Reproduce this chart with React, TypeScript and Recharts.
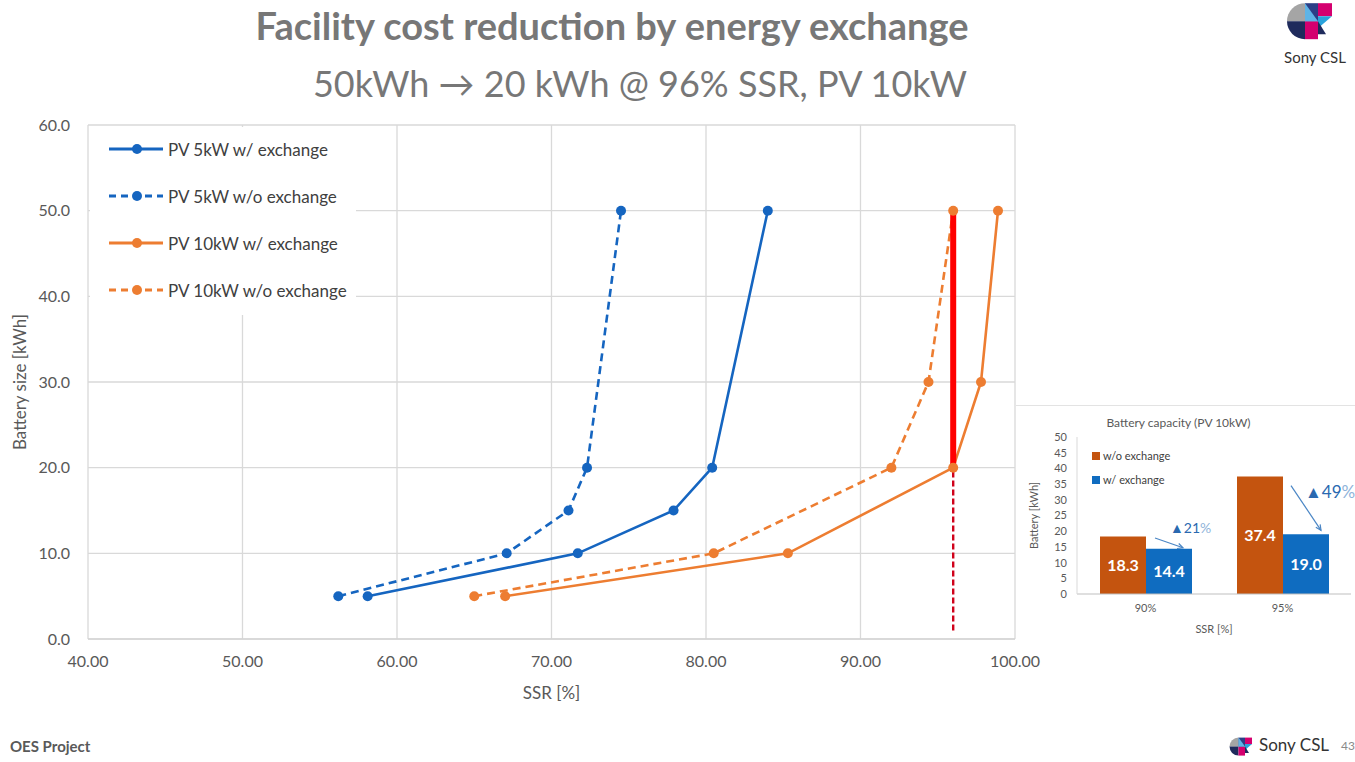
import React from "react";
import {
  LineChart,
  Line,
  XAxis,
  YAxis,
  CartesianGrid,
  BarChart,
  Bar,
  LabelList,
} from "recharts";

// main chart: SSR [%] vs battery size [kWh]
const SSR_5KW_W = [58.1, 71.7, 77.9, 80.4, 84.0];
const BAT_5KW_W = [5, 10, 15, 20, 50];
const SSR_5KW_WO = [56.2, 67.1, 71.1, 72.3, 74.5];
const BAT_5KW_WO = [5, 10, 15, 20, 50];
const SSR_10KW_W = [67.0, 85.3, 96.0, 97.8, 98.9];
const BAT_10KW_W = [5, 10, 20, 30, 50];
const SSR_10KW_WO = [65.0, 80.5, 92.0, 94.4, 96.0];
const BAT_10KW_WO = [5, 10, 20, 30, 50];

const TARGET_SSR = 96;
const TARGET_SOLID = [20, 50];
const TARGET_DASH = [1, 20];

const X_TICKS = [40, 50, 60, 70, 80, 90, 100];
const Y_TICKS = [0, 10, 20, 30, 40, 50, 60];

// inset bar chart
const INSET_CATS = ["90%", "95%"];
const INSET_WO = [18.3, 37.4];
const INSET_W = [14.4, 19.0];
const INSET_DROP = ["21", "49"];
const INSET_TICKS = [0, 5, 10, 15, 20, 25, 30, 35, 40, 45, 50];

const BLUE = "#1565c0";
const ORANGE = "#ed7d31";
const FONT = "Lato, 'Open Sans', sans-serif";

const zip = (xs: number[], ys: number[]) => xs.map((x, i) => ({ x, y: ys[i] }));

const series = [
  { name: "PV 5kW w/ exchange", color: BLUE, dash: undefined, data: zip(SSR_5KW_W, BAT_5KW_W) },
  { name: "PV 5kW w/o exchange", color: BLUE, dash: "8 5", data: zip(SSR_5KW_WO, BAT_5KW_WO) },
  { name: "PV 10kW w/ exchange", color: ORANGE, dash: undefined, data: zip(SSR_10KW_W, BAT_10KW_W) },
  { name: "PV 10kW w/o exchange", color: ORANGE, dash: "8 5", data: zip(SSR_10KW_WO, BAT_10KW_WO) },
];

const insetData = INSET_CATS.map((c, i) => ({ cat: c, wo: INSET_WO[i], w: INSET_W[i] }));

const Legend = () => (
  <div
    style={{
      position: "absolute",
      left: 90,
      top: 127,
      width: 266,
      height: 188,
      background: "#fff",
    }}
  >
    {series.map((s, i) => (
      <div
        key={s.name}
        style={{
          position: "absolute",
          left: 18,
          top: 10 + i * 47,
          display: "flex",
          alignItems: "center",
          height: 24,
        }}
      >
        <svg width={58} height={14}>
          <line x1={1} y1={7} x2={55} y2={7} stroke={s.color} strokeWidth={3} strokeDasharray={s.dash ? "7 5" : undefined} />
          <circle cx={29} cy={7} r={5} fill={s.color} />
        </svg>
        <span style={{ marginLeft: 2, fontSize: 17, color: "#404040" }}>{s.name}</span>
      </div>
    ))}
  </div>
);

const ARROWS = [
  { sx: 9, sy: 1.5, ex: 37, ey: -1, tx: 24, ty: -16, fs: 14 },
  { sx: 8, sy: 9, ex: 38, ey: -4, tx: 22, ty: -36, fs: 17 },
];

const DropNote = (props: any) => {
  const { x, y, width, height, value, index } = props;
  const a = ARROWS[index];
  const unit = height / value;
  const woTop = y + height - INSET_WO[index] * unit;
  const x1 = x + a.sx, y1 = woTop + a.sy, x2 = x + a.ex, y2 = y + a.ey;
  const ang = Math.atan2(y2 - y1, x2 - x1);
  const h = 6;
  const p1 = `${x2 - h * Math.cos(ang - 0.45)},${y2 - h * Math.sin(ang - 0.45)}`;
  const p2 = `${x2 - h * Math.cos(ang + 0.45)},${y2 - h * Math.sin(ang + 0.45)}`;
  return (
    <g>
      <line x1={x1} y1={y1} x2={x2} y2={y2} stroke="#4a86c5" strokeWidth={1.2} />
      <polyline points={`${p1} ${x2},${y2} ${p2}`} fill="none" stroke="#4a86c5" strokeWidth={1.2} />
      <text x={x + a.tx} y={y + a.ty} fontSize={a.fs} fontFamily={FONT}>
        <tspan fill="#2a69b0">{"▲" + INSET_DROP[index]}</tspan>
        <tspan fill="#8fb4da">%</tspan>
      </text>
    </g>
  );
};

const LogoMark = ({ size }: { size: number }) => (
  <svg width={size} height={size * 0.8} viewBox="0 0 48 38">
    <path d="M1,19 A18,18 0 0 1 19,1 L19,19 Z" fill="#a5a5a5" />
    <path d="M1,19 A18,18 0 0 0 19,37 L19,19 Z" fill="#1f2b5c" />
    <rect x={19} y={19} width={13} height={18} fill="#d4006f" />
    <polygon points="19,1 32,1 32,19 19,19" fill="#2c3f86" />
    <polygon points="19,1 32,19 19,19" fill="#5fb4e6" />
    <polygon points="32,1 46,1 46,14 32,14" fill="#d4006f" />
    <polygon points="32,14 46,14 32,26" fill="#29a3dc" />
    <polygon points="32,19 40,32 32,32" fill="#1f2b5c" />
  </svg>
);

export default function App() {
  return (
    <div
      style={{
        position: "absolute",
        left: 0,
        top: 0,
        width: 1355,
        height: 762,
        background: "#fff",
        fontFamily: FONT,
        overflow: "hidden",
      }}
    >
      <div
        style={{
          position: "absolute",
          left: 0,
          top: 6,
          width: 1224,
          textAlign: "center",
          fontSize: 38,
          fontWeight: 700,
          color: "#777",
          lineHeight: 1,
        }}
      >
        Facility cost reduction by energy exchange
      </div>
      <div
        style={{
          position: "absolute",
          left: 0,
          top: 65,
          width: 1280,
          textAlign: "center",
          fontSize: 36,
          color: "#777",
          lineHeight: 1,
        }}
      >
        50kWh → 20 kWh @ 96% SSR, PV 10kW
      </div>

      <div style={{ position: "absolute", left: 1286, top: 2 }}>
        <LogoMark size={48} />
      </div>
      <div style={{ position: "absolute", left: 1270, top: 48, width: 90, textAlign: "center", fontSize: 15, color: "#333" }}>
        Sony CSL
      </div>

      <div style={{ position: "absolute", left: 0, top: 0 }}>
        <LineChart width={1045} height={720} margin={{ top: 125, right: 30, bottom: 21, left: 0 }}>
          <CartesianGrid stroke="#d9d9d9" strokeWidth={1.3} />
          <XAxis
            dataKey="x"
            type="number"
            domain={[40, 100]}
            ticks={X_TICKS}
            tickFormatter={(v: number) => v.toFixed(2)}
            tickLine={false}
            axisLine={{ stroke: "#d0d0d0" }}
            tickMargin={11}
            height={60}
            tick={{ fill: "#595959", fontSize: 16 }}
            label={{ value: "SSR [%]", position: "insideBottom", offset: 0, fill: "#595959", fontSize: 17 }}
          />
          <YAxis
            dataKey="y"
            type="number"
            domain={[0, 60]}
            ticks={Y_TICKS}
            tickFormatter={(v: number) => v.toFixed(1)}
            tickLine={false}
            axisLine={false}
            tickMargin={12}
            width={88}
            tick={{ fill: "#595959", fontSize: 16 }}
            label={{
              value: "Battery size [kWh]",
              angle: -90,
              position: "insideLeft",
              offset: 20,
              fill: "#595959",
              fontSize: 17,
              style: { textAnchor: "middle" },
            }}
          />
          {series.map((s) => (
            <Line
              key={s.name}
              data={s.data}
              dataKey="y"
              name={s.name}
              stroke={s.color}
              strokeWidth={2.6}
              strokeDasharray={s.dash}
              dot={{ r: 5, fill: s.color, stroke: s.color, strokeWidth: 0 }}
              isAnimationActive={false}
            />
          ))}
          <Line
            data={TARGET_DASH.map((y) => ({ x: TARGET_SSR, y }))}
            dataKey="y"
            stroke="#d0021b"
            strokeWidth={2.4}
            strokeDasharray="6 3"
            dot={false}
            isAnimationActive={false}
          />
          <Line
            data={TARGET_SOLID.map((y) => ({ x: TARGET_SSR, y }))}
            dataKey="y"
            stroke="#ff0000"
            strokeWidth={6}
            strokeLinecap="round"
            dot={false}
            isAnimationActive={false}
          />
        </LineChart>
      </div>
      <Legend />

      <div
        style={{
          position: "absolute",
          left: 1016,
          top: 405,
          width: 339,
          height: 232,
          background: "#fff",
          borderTop: "1px solid #e3e3e3",
        }}
      >
        <BarChart
          width={339}
          height={231}
          data={insetData}
          margin={{ top: 31, right: 4, bottom: 0, left: 0 }}
          barGap={0}
        >
          <XAxis
            dataKey="cat"
            tickLine={false}
            axisLine={{ stroke: "#bfbfbf" }}
            height={43}
            tickMargin={4}
            tick={{ fill: "#595959", fontSize: 11 }}
            label={{ value: "SSR [%]", position: "insideBottom", offset: 4, fill: "#595959", fontSize: 11 }}
          />
          <YAxis
            type="number"
            domain={[0, 50]}
            ticks={INSET_TICKS}
            tickLine={false}
            axisLine={{ stroke: "#d9d9d9" }}
            tickMargin={4}
            width={61}
            interval={0}
            tick={{ fill: "#595959", fontSize: 11 }}
            label={{
              value: "Battery [kWh]",
              angle: -90,
              position: "insideLeft",
              offset: 18,
              fill: "#595959",
              fontSize: 11,
              style: { textAnchor: "middle" },
            }}
          />
          <Bar dataKey="wo" fill="#c4540f" barSize={46} isAnimationActive={false}>
            <LabelList dataKey="wo" position="center" fill="#fff" fontSize={16} fontWeight={700} formatter={(v: any) => Number(v).toFixed(1)} />
          </Bar>
          <Bar dataKey="w" fill="#0f6cc0" barSize={46} isAnimationActive={false}>
            <LabelList dataKey="w" position="center" fill="#fff" fontSize={16} fontWeight={700} formatter={(v: any) => Number(v).toFixed(1)} />
            <LabelList dataKey="w" content={<DropNote />} />
          </Bar>
        </BarChart>
        <div style={{ position: "absolute", left: 0, top: 9, width: 325, textAlign: "center", fontSize: 12, color: "#595959" }}>
          Battery capacity (PV 10kW)
        </div>
        {[
          { label: "w/o exchange", color: "#c4540f" },
          { label: "w/ exchange", color: "#0f6cc0" },
        ].map((l, i) => (
          <div
            key={l.label}
            style={{ position: "absolute", left: 76, top: 43 + i * 24, display: "flex", alignItems: "center", fontSize: 11, color: "#404040" }}
          >
            <span style={{ width: 8, height: 8, background: l.color, marginRight: 3 }} />
            {l.label}
          </div>
        ))}
      </div>

      <div style={{ position: "absolute", left: 10, top: 737, fontSize: 15, fontWeight: 700, color: "#595959" }}>
        OES Project
      </div>
      <div style={{ position: "absolute", left: 1229, top: 737 }}>
        <LogoMark size={24} />
      </div>
      <div style={{ position: "absolute", left: 1259, top: 734, fontSize: 17, color: "#333" }}>Sony CSL</div>
      <div style={{ position: "absolute", left: 1341, top: 738, fontSize: 12, color: "#8a8a8a" }}>43</div>
    </div>
  );
}
